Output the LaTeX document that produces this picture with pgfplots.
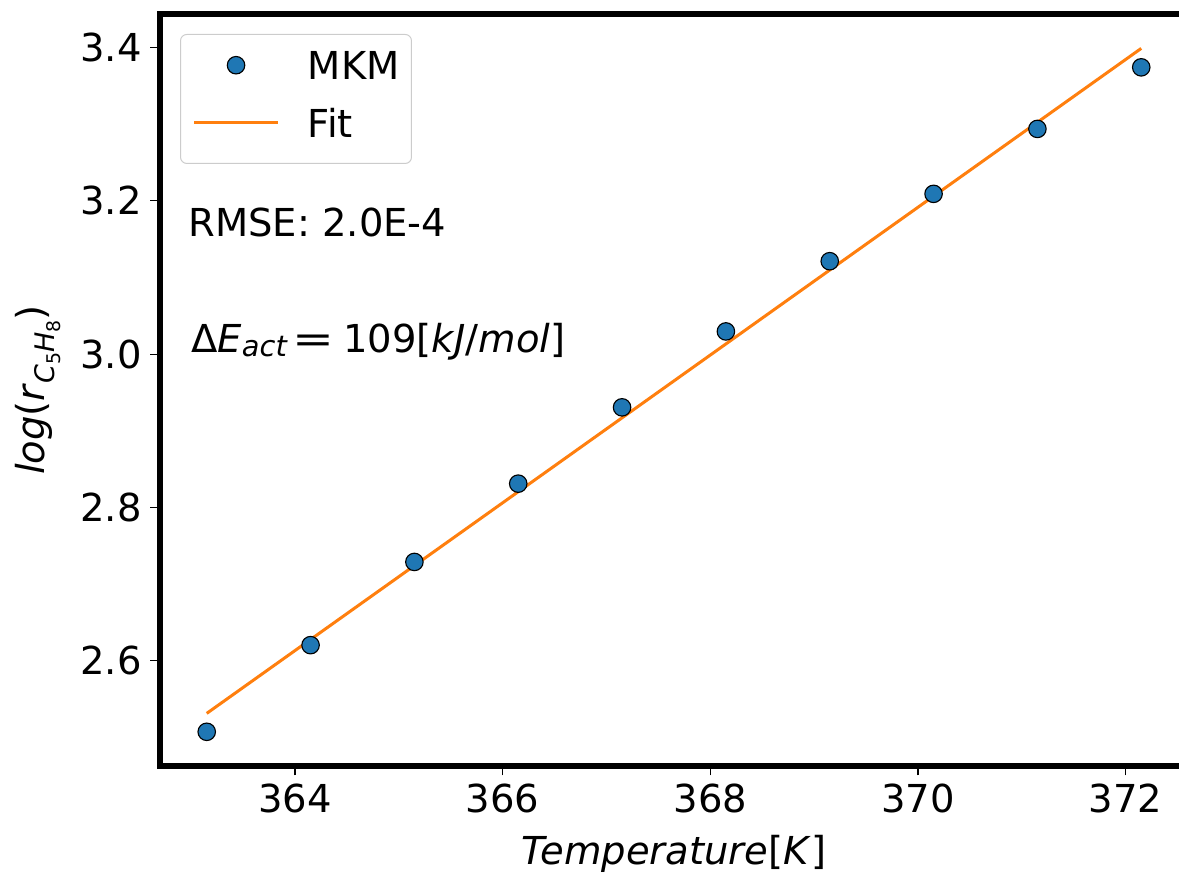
\documentclass[border=0pt]{standalone}
\usepackage{pgfplots}
\pgfplotsset{compat=1.18}
\usepackage{fontspec}
\setmainfont{DejaVu Sans}
\definecolor{mplblue}{HTML}{1F77B4}
\definecolor{mplorange}{HTML}{FF7F0E}
\newcommand{\fs}{\fontsize{15.4}{18}\selectfont}
\newcommand{\sub}[1]{\raisebox{-0.24em}{\scalebox{0.7}{#1}}}
\begin{document}
\begin{tikzpicture}
\begin{axis}[
  at={(0pt,0pt)}, anchor=south west,
  scale only axis, width=411.2pt, height=300.8pt,
  xmin=362.70, xmax=372.60, ymin=2.4629, ymax=3.4436,
  axis line style={line width=2.6pt, black},
  xtick={364,366,368,370,372},
  ytick={2.6,2.8,3.0,3.2,3.4},
  xtick pos=bottom, ytick pos=left,
  tick align=outside, major tick length=3.8pt,
  tick style={line width=0.5pt, black},
  /pgf/number format/assume math mode=true,
  tick label style={font=\fs},
  yticklabel style={/pgf/number format/.cd, fixed, fixed zerofill, precision=1},
  every axis x label/.style={at={(axis description cs:0.5,-0.1316)}, anchor=base, font=\fs},
  every axis y label/.style={at={(axis description cs:-0.1119,0.5)}, anchor=base, rotate=90, font=\fs},
  xlabel={\textit{Temperature}[\textit{K}]},
  ylabel={\textit{log}(\textit{r}\sub{\textit{C}\sub{5}\textit{H}\sub{8}})},
  legend style={at={(axis description cs:0.0195,0.9734)}, anchor=north west,
    draw=black!20, line width=0.4pt, rounded corners=2.5pt, fill=white,
    font=\fs, inner xsep=4.8pt, inner ysep=6.6pt, row sep=7.6pt, column sep=11.3pt,
    nodes={inner xsep=0pt, inner ysep=0pt, text height=11.5pt, text depth=3.9pt}},
  legend cell align=left,
  legend image code/.code={\draw[mark repeat=2,mark phase=2,#1] plot coordinates {(0pt,2pt) (16.8pt,2pt) (33.6pt,2pt)};},
]
\addplot[only marks, mark=*, mark size=3.5pt, mark options={fill=mplblue, draw=black, line width=0.45pt}]
coordinates {
(363.15,2.5075) (364.15,2.6205) (365.15,2.7290) (366.15,2.8311) (367.15,2.9306)
(368.15,3.0296) (369.15,3.1212) (370.15,3.2090) (371.15,3.2937) (372.15,3.3740)
};
\addlegendentry{MKM}
\addplot[mplorange, line width=1.2pt, no marks]
coordinates {(363.15,2.5315) (372.15,3.3987)};
\addlegendentry{Fit}
\node[anchor=base west, inner sep=0pt, font=\fs] at (axis description cs:0.0272,0.7035) {RMSE: 2.0E-4};
\node[anchor=base west, inner sep=0pt, font=\fs] at (axis description cs:0.0300,0.5496)
  {Δ\textit{E}\raisebox{-0.1em}{\scalebox{0.75}{\textit{act}}}\hspace{2pt}\scalebox{1.3}[1.0]{=}\hspace{3.5pt}109[\textit{kJ}/\textit{mol}]};
\end{axis}
\pgfresetboundingbox
\useasboundingbox (-64pt,-44pt) rectangle (407.6pt,306.4pt);
\end{tikzpicture}
\end{document}
